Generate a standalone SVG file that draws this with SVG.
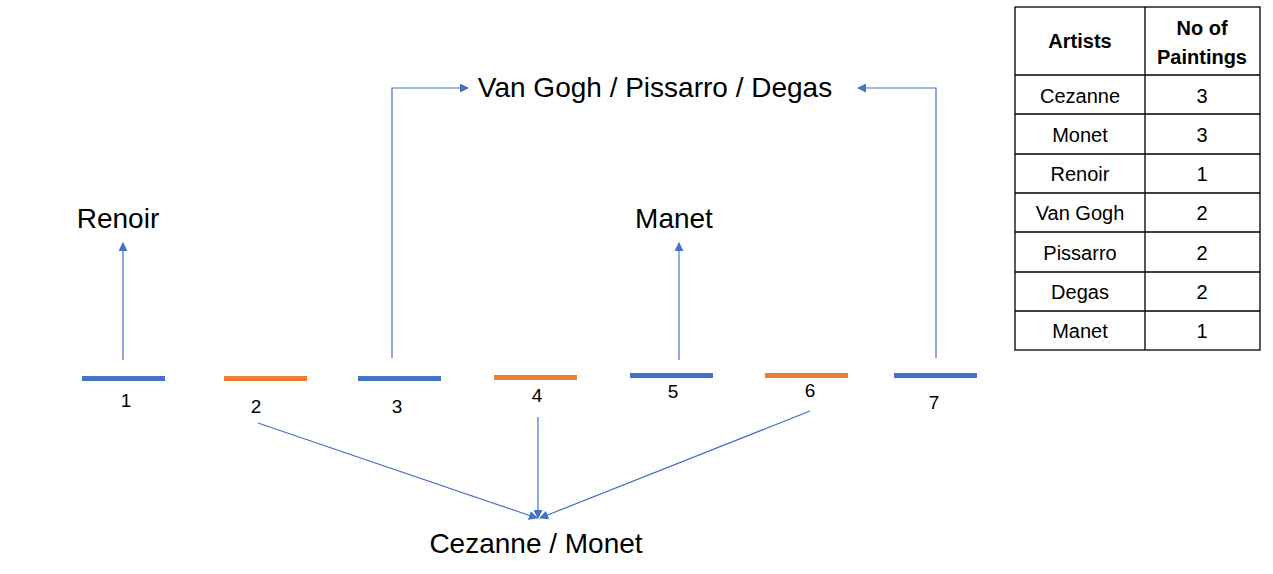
<svg xmlns="http://www.w3.org/2000/svg" width="1273" height="574" viewBox="0 0 1273 574">
<style>
text{font-family:"Liberation Sans",Arial,sans-serif;fill:#000}
.big{font-size:28px;text-anchor:middle}
.num{font-size:19px;text-anchor:middle}
.tb{font-size:20px;text-anchor:middle}
.b{fill:#4472C4}.o{fill:#ED7D31}
.c{stroke:#4472C4;stroke-width:1.2;fill:none;marker-end:url(#ah)}
.g{stroke:#000;stroke-width:1.3;fill:none}
</style>
<defs><marker id="ah" viewBox="0 0 10 10" refX="9" refY="5" markerWidth="9" markerHeight="9" markerUnits="userSpaceOnUse" orient="auto"><path d="M0,0L10,5L0,10z" fill="#4472C4"/></marker></defs>
<rect width="1273" height="574" fill="#fff"/>
<g id="bar1"><rect class="b" x="82" y="376" width="83" height="5"/><text class="num" x="126" y="407">1</text></g>
<g id="bar2"><rect class="o" x="224" y="376" width="83" height="5"/><text class="num" x="256" y="413">2</text></g>
<g id="bar3"><rect class="b" x="358" y="376" width="83" height="5"/><text class="num" x="397" y="413">3</text></g>
<g id="bar4"><rect class="o" x="494" y="375" width="83" height="5"/><text class="num" x="537" y="402">4</text></g>
<g id="bar5"><rect class="b" x="630" y="373" width="83" height="5"/><text class="num" x="673" y="398">5</text></g>
<g id="bar6"><rect class="o" x="765" y="373" width="83" height="5"/><text class="num" x="810" y="397">6</text></g>
<g id="bar7"><rect class="b" x="894" y="373" width="83" height="5"/><text class="num" x="934" y="409">7</text></g>
<g id="renoir"><text class="big" x="118" y="228">Renoir</text></g>
<g id="manet"><text class="big" x="674" y="228">Manet</text></g>
<g id="vangogh"><text class="big" x="655" y="97">Van Gogh / Pissarro / Degas</text></g>
<g id="cezanne"><text class="big" x="536" y="553">Cezanne / Monet</text></g>
<g id="connectors">
<path class="c" d="M123,360V243"/>
<path class="c" d="M679,360V243"/>
<path class="c" d="M392,358V88H468"/>
<path class="c" d="M936,358V88H858"/>
<path class="c" d="M258,423L537,518"/>
<path class="c" d="M538,417V518"/>
<path class="c" d="M810,411L540,518"/>
</g>
<g id="table">
<rect class="g" x="1015" y="7" width="245" height="343"/>
<path class="g" d="M1145,7V350M1015,75H1260M1015,114H1260M1015,154H1260M1015,193H1260M1015,232H1260M1015,272H1260M1015,311H1260"/>
<text class="tb" x="1080" y="48" font-weight="bold">Artists</text>
<text class="tb" x="1202" y="35" font-weight="bold">No of</text>
<text class="tb" x="1202" y="64" font-weight="bold">Paintings</text>
<text class="tb" x="1080" y="103">Cezanne</text><text class="tb" x="1202" y="103">3</text>
<text class="tb" x="1080" y="142">Monet</text><text class="tb" x="1202" y="142">3</text>
<text class="tb" x="1080" y="181">Renoir</text><text class="tb" x="1202" y="181">1</text>
<text class="tb" x="1080" y="220">Van Gogh</text><text class="tb" x="1202" y="220">2</text>
<text class="tb" x="1080" y="260">Pissarro</text><text class="tb" x="1202" y="260">2</text>
<text class="tb" x="1080" y="299">Degas</text><text class="tb" x="1202" y="299">2</text>
<text class="tb" x="1080" y="338">Manet</text><text class="tb" x="1202" y="338">1</text>
</g>
</svg>
